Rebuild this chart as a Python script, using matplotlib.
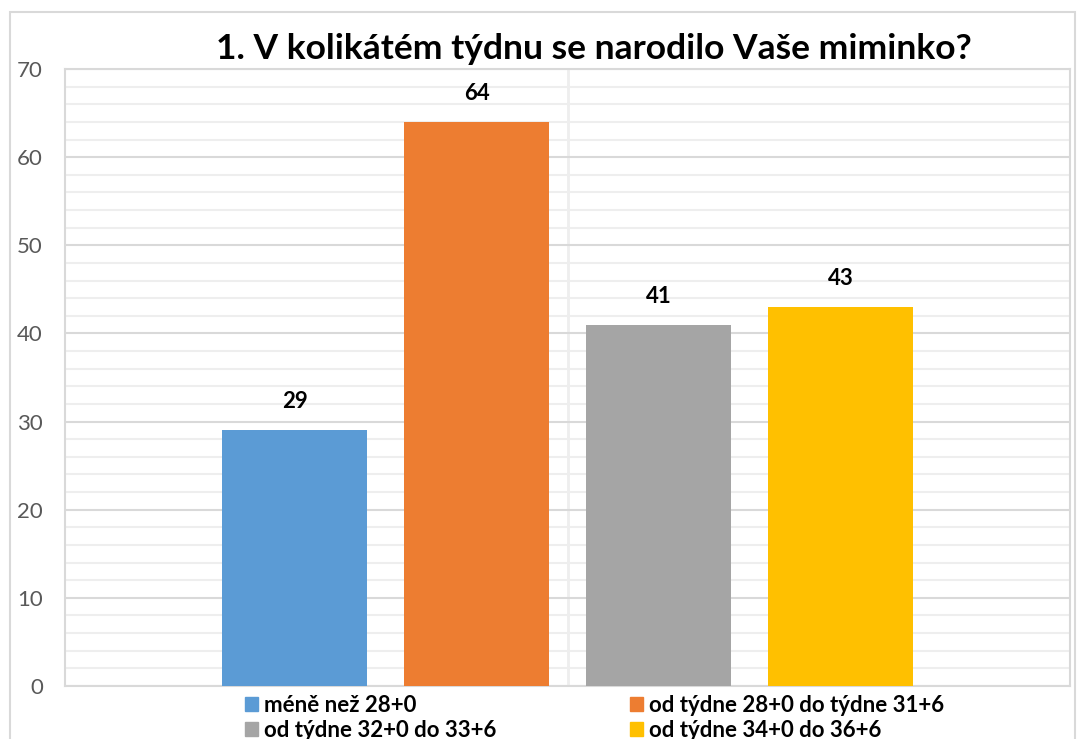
import matplotlib.pyplot as plt
from matplotlib.patches import Rectangle, Patch
from matplotlib.ticker import MultipleLocator

plt.rcParams['font.family'] = ['Lato', 'DejaVu Sans']

title = "1. V kolikátém týdnu se narodilo Vaše miminko?"
categories = ["méně než 28+0", "od týdne 28+0 do týdne 31+6",
              "od týdne 32+0 do 33+6", "od týdne 34+0 do 36+6"]
values = [29, 64, 41, 43]
colors = ["#5b9bd5", "#ed7d31", "#a5a5a5", "#ffc000"]

fig = plt.figure(figsize=(10.8, 7.39), dpi=100)

# chart area border (cut off at the bottom like the reference)
fig.patches.append(Rectangle((10 / 1080, -0.05), 1065 / 1080, 1.05 - 12 / 739,
                             transform=fig.transFigure, fill=False,
                             edgecolor="#d9d9d9", linewidth=1.5))

ax = fig.add_axes([65 / 1080, 1 - 686 / 739, 1005 / 1080, 617 / 739])

x = list(range(len(values)))
bars = ax.bar(x, values, width=0.797, color=colors, zorder=3)

ax.set_xlim(-1.261, 4.261)
ax.set_ylim(0, 70)
ax.yaxis.set_major_locator(MultipleLocator(10))
ax.yaxis.set_minor_locator(MultipleLocator(2))
ax.grid(axis="y", which="major", color="#d9d9d9", linewidth=1.5, zorder=1)
ax.grid(axis="y", which="minor", color="#eeeeee", linewidth=1.5, zorder=0)
ax.axvline(1.5, color="#eeeeee", linewidth=2, zorder=0)
ax.set_xticks([])
ax.tick_params(axis="y", which="both", length=0, pad=16, labelsize=16,
               labelcolor="#595959")

for s in ["top", "right", "left", "bottom"]:
    ax.spines[s].set_color("#d9d9d9")
    ax.spines[s].set_linewidth(1.5)

for b, v in zip(bars, values):
    ax.annotate(str(v), (b.get_x() + b.get_width() / 2, v),
                xytext=(0, 13), textcoords="offset points",
                ha="center", va="bottom", fontsize=16, fontweight="bold")

fig.text(594 / 1080, 1 - 49 / 739, title, ha="center", va="center",
         fontsize=25.5, fontweight="bold")

handles = [Patch(color=c) for c in colors]
order = [0, 2, 1, 3]
ax.legend([handles[i] for i in order], [categories[i] for i in order],
          ncol=2, loc="upper left", bbox_to_anchor=(245 / 1080, 1 - 695 / 739),
          bbox_transform=fig.transFigure, frameon=False,
          prop={"size": 16, "weight": "bold"},
          handlelength=0.585, handleheight=0.585, handletextpad=0.27,
          columnspacing=6.0, labelspacing=0.18, borderpad=0, borderaxespad=0)

fig.savefig("out.png", dpi=100)
